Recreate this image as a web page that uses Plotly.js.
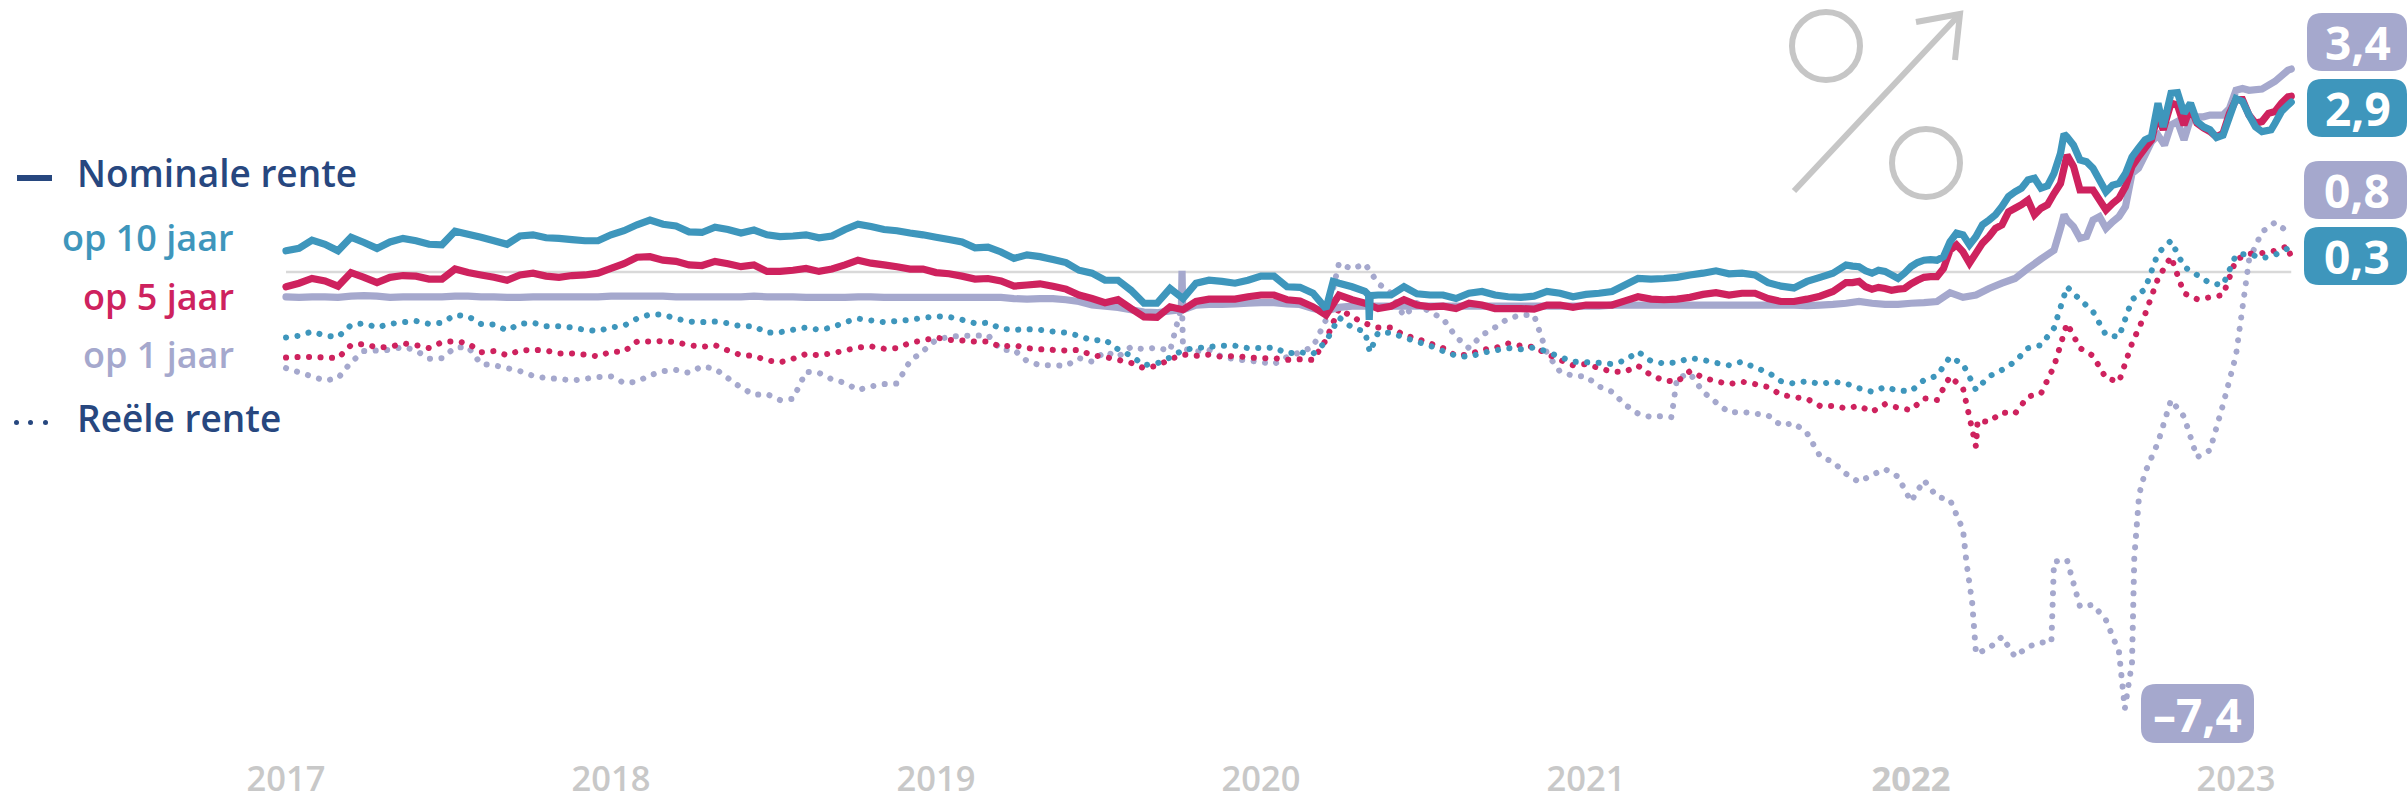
<!DOCTYPE html>
<html><head><meta charset="utf-8">
<script src="https://cdn.plot.ly/plotly-3.0.1.min.js"></script>
<style>html,body{margin:0;padding:0;background:#fff}#chart{width:2407px;height:803px}</style>
</head><body><div id="chart"></div>
<script>
// Half-monthly readings, starting at 2017.00, one value per 0.04 year (in %)
const startYear = 2017, stepYear = 0.04;
const yearTicks = [2017,2018,2019,2020,2021,2022,2023];
const yearLabels = ['2017','2018','2019','2020','2021','<b>2022</b>','2023'];

const nominal10 = [
.36,.40,.54,.47,.36,.59,.50,.40,.51,.57,
.53,.47,.46,.69,.64,.59,.53,.47,.61,.63,
.58,.57,.55,.53,.53,.63,.70,.80,.88,.81,
.78,.68,.67,.76,.72,.66,.71,.63,.60,.61,
.63,.58,.61,.72,.81,.77,.72,.70,.66,.63,
.59,.55,.51,.41,.42,.34,.23,.29,.26,.21,
.16,.03,-.02,-.14,-.14,-.31,-.53,-.53,-.28,-.45,
-.19,-.14,-.16,-.19,-.14,-.07,-.07,-.25,-.26,-.36,
-.62,-.19,-.25,-.33,-.39,-.39,-.25,-.37,-.39,-.39,
-.45,-.36,-.33,-.39,-.42,-.43,-.41,-.33,-.36,-.42,
-.38,-.36,-.33,-.22,-.11,-.12,-.11,-.09,-.05,-.02,
.02,-.03,-.02,-.05,-.18,-.24,-.27,-.16,-.09,-.02,
.12,.09,-.02,.01,-.11,.09,.20,.20,.51,.63,
.60,.88,1.11,1.36,1.56,1.42,1.67,2.29,1.90,1.76,
1.36,1.50,1.95,2.24,2.86,3.03,2.69,2.55,2.41,2.32,
2.94,2.66,2.38,2.52,2.83];
const nominal5 = [
-.25,-.19,-.11,-.15,-.24,-.01,-.09,-.18,-.09,-.06,
-.07,-.12,-.12,.05,-.01,-.05,-.09,-.14,-.05,-.02,
-.07,-.09,-.06,-.05,-.02,.06,.14,.25,.26,.20,
.18,.12,.11,.18,.14,.09,.12,.01,.01,.03,
.06,.01,.05,.12,.20,.15,.12,.09,.05,.05,
-.01,-.03,-.07,-.12,-.11,-.15,-.24,-.22,-.20,-.24,
-.29,-.39,-.45,-.52,-.47,-.62,-.76,-.77,-.59,-.64,
-.50,-.46,-.46,-.46,-.42,-.39,-.39,-.47,-.49,-.59,
-.73,-.39,-.47,-.53,-.62,-.58,-.47,-.56,-.59,-.58,
-.62,-.53,-.56,-.62,-.62,-.62,-.63,-.56,-.56,-.60,
-.56,-.56,-.56,-.49,-.42,-.46,-.47,-.46,-.43,-.38,
-.35,-.39,-.36,-.36,-.45,-.50,-.50,-.46,-.41,-.33,
-.18,-.16,-.29,-.28,-.29,-.20,-.09,-.08,.37,.34,
.32,.60,.80,1.08,1.22,1.08,1.33,1.98,1.39,1.39,
1.05,1.25,1.79,2.10,2.69,2.86,2.49,2.52,2.38,2.35,
2.92,2.66,2.55,2.72,2.97];
const nominal1 = [
-.42,-.43,-.42,-.42,-.43,-.41,-.40,-.41,-.43,-.42,
-.42,-.42,-.42,-.41,-.41,-.42,-.42,-.43,-.43,-.42,
-.42,-.42,-.42,-.42,-.42,-.41,-.41,-.41,-.41,-.41,
-.42,-.42,-.42,-.42,-.42,-.42,-.41,-.42,-.42,-.42,
-.43,-.43,-.43,-.43,-.42,-.42,-.43,-.43,-.43,-.43,
-.43,-.43,-.43,-.43,-.43,-.43,-.45,-.46,-.45,-.45,
-.47,-.50,-.56,-.58,-.60,-.64,-.68,-.69,-.66,-.64,
-.56,-.55,-.55,-.54,-.53,-.52,-.52,-.54,-.55,-.62,
-.66,-.60,-.58,-.58,-.58,-.58,-.58,-.58,-.58,-.58,
-.58,-.58,-.58,-.58,-.58,-.58,-.58,-.58,-.58,-.58,
-.58,-.58,-.56,-.56,-.56,-.56,-.56,-.56,-.56,-.56,
-.56,-.56,-.56,-.56,-.56,-.56,-.56,-.57,-.56,-.55,
-.53,-.50,-.53,-.55,-.55,-.53,-.52,-.50,-.35,-.43,
-.39,-.28,-.19,-.11,.06,.22,.37,.88,.57,.88,
.74,.94,1.67,1.98,2.32,2.49,2.24,2.63,2.66,2.66,
3.08,3.08,3.10,3.23,3.42];
const real10 = [
-1.11,-1.08,-1.01,-1.08,-1.10,-.90,-.87,-.94,-.88,-.85,
-.83,-.88,-.86,-.73,-.75,-.88,-.89,-.99,-.88,-.86,
-.92,-.92,-.94,-.98,-1.00,-.94,-.91,-.79,-.72,-.72,
-.79,-.84,-.85,-.84,-.87,-.92,-.92,-1.03,-1.02,-.98,
-.94,-.98,-.94,-.85,-.79,-.82,-.85,-.83,-.81,-.78,
-.75,-.76,-.81,-.87,-.86,-.96,-.98,-.97,-.98,-1.01,
-1.03,-1.08,-1.16,-1.15,-1.31,-1.42,-1.58,-1.55,-1.45,-1.32,
-1.29,-1.27,-1.25,-1.25,-1.29,-1.29,-1.28,-1.38,-1.36,-1.39,
-1.18,-.77,-.94,-1.01,-1.03,-1.03,-1.11,-1.18,-1.25,-1.34,
-1.42,-1.44,-1.37,-1.33,-1.29,-1.31,-1.28,-1.35,-1.44,-1.52,
-1.53,-1.54,-1.56,-1.50,-1.35,-1.51,-1.55,-1.53,-1.46,-1.49,
-1.54,-1.58,-1.52,-1.62,-1.70,-1.85,-1.89,-1.85,-1.90,-1.86,
-1.89,-1.97,-2.03,-1.95,-2.01,-2.02,-1.83,-1.76,-1.44,-1.56,
-2.00,-1.77,-1.66,-1.52,-1.29,-1.24,-.95,-.25,-.47,-.67,
-1.07,-1.10,-.47,-.29,.32,.53,.09,-.05,-.19,-.22,
.29,.31,.23,.29,.40];
const real5 = [
-1.45,-1.44,-1.44,-1.45,-1.46,-1.24,-1.22,-1.28,-1.27,-1.21,
-1.24,-1.29,-1.19,-1.17,-1.21,-1.36,-1.34,-1.41,-1.33,-1.32,
-1.33,-1.38,-1.38,-1.40,-1.43,-1.35,-1.35,-1.18,-1.18,-1.17,
-1.19,-1.24,-1.27,-1.24,-1.33,-1.41,-1.42,-1.50,-1.53,-1.47,
-1.39,-1.41,-1.38,-1.33,-1.28,-1.26,-1.30,-1.29,-1.20,-1.16,
-1.11,-1.15,-1.16,-1.18,-1.18,-1.27,-1.24,-1.29,-1.31,-1.32,
-1.33,-1.32,-1.41,-1.44,-1.49,-1.54,-1.63,-1.59,-1.48,-1.40,
-1.42,-1.40,-1.44,-1.42,-1.45,-1.46,-1.46,-1.49,-1.48,-1.49,
-1.15,-.62,-.76,-.87,-.94,-.94,-1.07,-1.13,-1.21,-1.29,
-1.42,-1.40,-1.32,-1.29,-1.21,-1.25,-1.27,-1.39,-1.49,-1.58,
-1.56,-1.63,-1.69,-1.69,-1.59,-1.75,-1.84,-1.86,-1.68,-1.79,
-1.85,-1.90,-1.86,-1.90,-1.95,-2.08,-2.12,-2.15,-2.27,-2.27,
-2.31,-2.27,-2.37,-2.24,-2.30,-2.34,-2.14,-2.17,-1.77,-1.97,
-2.96,-2.54,-2.38,-2.40,-2.11,-2.06,-1.60,-.87,-1.29,-1.42,
-1.80,-1.86,-1.21,-.72,-.11,.26,-.36,-.46,-.43,-.39,
.21,.31,.32,.36,.44];
const real1 = [
-1.63,-1.70,-1.77,-1.84,-1.80,-1.53,-1.34,-1.33,-1.32,-1.27,
-1.33,-1.47,-1.46,-1.28,-1.27,-1.56,-1.58,-1.63,-1.68,-1.76,
-1.80,-1.81,-1.84,-1.81,-1.78,-1.77,-1.88,-1.86,-1.75,-1.68,
-1.66,-1.71,-1.60,-1.64,-1.80,-1.96,-2.08,-2.07,-2.17,-2.15,
-1.69,-1.71,-1.82,-1.88,-2.00,-1.94,-1.90,-1.89,-1.51,-1.34,
-1.15,-1.10,-1.08,-1.08,-1.07,-1.32,-1.32,-1.51,-1.58,-1.58,
-1.59,-1.46,-1.52,-1.35,-1.44,-1.27,-1.31,-1.28,-1.34,-1.30,
-1.35,-1.32,-1.44,-1.48,-1.50,-1.53,-1.56,-1.44,-1.36,-1.27,
-.81,.15,.05,.14,-.19,-.36,-.75,-.53,-.68,-.79,
-1.10,-1.29,-1.07,-.94,-.79,-.73,-.73,-1.38,-1.69,-1.76,
-1.77,-1.94,-2.03,-2.25,-2.40,-2.46,-2.44,-1.80,-1.72,-2.03,
-2.21,-2.38,-2.37,-2.40,-2.43,-2.60,-2.56,-2.73,-3.12,-3.22,
-3.42,-3.56,-3.44,-3.34,-3.47,-3.89,-3.53,-3.81,-3.86,-4.37,
-6.47,-6.38,-6.18,-6.52,-6.35,-6.28,-4.91,-4.88,-5.67,-5.64,
-5.90,-6.44,-6.62,-3.40,-2.89,-2.17,-2.45,-3.14,-3.02,-2.25,
-1.41,.20,.68,.84,.68];

// Extra readings between the half-monthly ones, where the lines move sharply: [year, %]
const nominal10Extra = [[2020.222,-.16],[2020.331,-.39],[2020.333,-.81],[2020.336,-.40],[2022.776,2.46],[2023.108,2.41],[2023.17,2.88],
[2021.82,.10],[2021.86,.02],[2021.90,.03],[2021.94,-.05],[2021.98,-.02],[2022.02,.16],[2022.06,.21],[2022.10,.26],[2022.14,.66],[2022.18,.46],
[2022.22,.80],[2022.26,.97],[2022.30,1.28],[2022.34,1.42],[2022.38,1.59],[2022.42,1.46],[2022.46,2.01],[2022.471,2.34],[2022.50,2.15],[2022.54,1.87],
[2022.58,1.56],[2022.62,1.47],[2022.66,1.67],[2022.70,2.10],[2022.74,2.29],[2022.82,3.04],[2022.86,2.86],[2022.90,2.46],[2022.94,2.28],[2022.98,2.63],
[2023.02,2.89],[2023.06,2.46],[2023.14,2.72]];
const nominal5Extra = [[2022.776,2.41],[2023.17,2.98],
[2021.82,-.18],[2021.86,-.25],[2021.90,-.26],[2021.94,-.31],[2021.98,-.28],[2022.02,-.14],[2022.06,-.08],[2022.10,.06],[2022.14,.46],[2022.18,.15],
[2022.22,.49],[2022.26,.74],[2022.30,1.02],[2022.34,1.14],[2022.38,.97],[2022.42,1.14],[2022.46,1.50],[2022.50,1.79],[2022.54,1.39],[2022.58,1.22],
[2022.62,1.16],[2022.66,1.45],[2022.70,1.95],[2022.74,2.24],[2022.82,2.83],[2022.86,2.80],[2022.90,2.44],[2022.94,2.29],[2022.98,2.69],
[2023.02,2.92],[2023.06,2.52],[2023.10,2.69],[2023.14,2.86]];
const nominal1Extra = [[2019.755,-.64],[2019.757,.02],[2019.759,-.62],[2023.17,3.44],
[2022.46,.74],[2022.471,.97],[2022.50,.77],[2022.54,.60],[2022.58,.94],[2022.62,.85],[2022.66,1.11],[2022.70,1.76],[2022.74,2.21],[2022.78,2.15],
[2022.82,2.55],[2022.86,2.60],[2022.90,2.63],[2022.94,2.66],[2022.98,2.77],[2023.02,3.11]];
const real10Extra = [[2020.335,-1.36],[2023.17,.29]];
const real5Extra = [[2022.205,-2.52],[2023.166,.31]];
const real1Extra = [[2019.757,-.55],[2021.263,-2.46],[2022.171,-4.94],[2022.188,-5.59],[2022.432,-6.27],[2022.658,-7.4],[2022.687,-4.85],[2022.702,-3.77],[2023.17,.66]];

const colTeal='#3E96BC', colRed='#CE225E', colLav='#A5A8CD', colNavy='#27477F', colGrey='#C8C8C8';

function merged(vals, extra){
  const pts = vals.map((v,i)=>[startYear+stepYear*i, v]).concat(extra);
  pts.sort((a,b)=>a[0]-b[0]);
  return {x:pts.map(p=>p[0]), y:pts.map(p=>p[1])};
}
function solid(vals,extra,color,name){
  return Object.assign(merged(vals,extra),{type:'scatter',mode:'lines',name,line:{color,width:7.2,shape:'linear',simplify:false},hoverinfo:'skip'});
}
function dotted(vals,extra,color,name){
  return Object.assign(merged(vals,extra),{type:'scatter',mode:'lines',name,line:{color,width:6,dash:'0.1px,11.4px',simplify:false},hoverinfo:'skip'});
}
const traces=[
  dotted(real1,real1Extra,colLav,'Reële rente op 1 jaar'),
  dotted(real5,real5Extra,colRed,'Reële rente op 5 jaar'),
  dotted(real10,real10Extra,colTeal,'Reële rente op 10 jaar'),
  solid(nominal1,nominal1Extra,colLav,'Nominale rente op 1 jaar'),
  solid(nominal5,nominal5Extra,colRed,'Nominale rente op 5 jaar'),
  solid(nominal10,nominal10Extra,colTeal,'Nominale rente op 10 jaar')
];

const W=2407,H=803,plotH=755;
const px=x=>x/W, py=y=>1-y/plotH;
const badges=[
  {t:'3,4',x0:2307,y0:13,x1:2407,y1:71,c:colLav,cx:2358},
  {t:'2,9',x0:2307,y0:79,x1:2407,y1:137,c:colTeal,cx:2358},
  {t:'0,8',x0:2304,y0:161,x1:2407,y1:219,c:colLav,cx:2357},
  {t:'0,3',x0:2304,y0:227,x1:2407,y1:285,c:colTeal,cx:2357},
  {t:'\u20137,4',x0:2141,y0:684,x1:2254,y1:743,c:colLav,cx:2197}
];
function rr(b){
  const r=15, rx=r/W, ry=r/plotH, X0=px(b.x0),X1=px(b.x1),Y0=py(b.y0),Y1=py(b.y1);
  return `M${X0+rx},${Y0} L${X1-rx},${Y0} Q${X1},${Y0} ${X1},${Y0-ry} L${X1},${Y1+ry} Q${X1},${Y1} ${X1-rx},${Y1} L${X0+rx},${Y1} Q${X0},${Y1} ${X0},${Y1+ry} L${X0},${Y0-ry} Q${X0},${Y0} ${X0+rx},${Y0} Z`;
}
const iconLine={color:'#C6C6C6',width:6};
const shapes=[
 {type:'line',xref:'x',yref:'y',x0:2017,x1:2023.17,y0:0,y1:0,line:{color:'#D9D9D9',width:2.5},layer:'below'},
 {type:'circle',xref:'paper',yref:'paper',x0:px(1792),x1:px(1860),y0:py(12),y1:py(80),line:iconLine},
 {type:'circle',xref:'paper',yref:'paper',x0:px(1892),x1:px(1960),y0:py(129),y1:py(197),line:iconLine},
 {type:'path',xref:'paper',yref:'paper',path:`M${px(1794)},${py(191)} L${px(1960)},${py(14)}`,line:iconLine},
 {type:'path',xref:'paper',yref:'paper',path:`M${px(1916)},${py(22)} L${px(1960)},${py(14)} L${px(1955)},${py(60)}`,line:iconLine},
 {type:'line',xref:'paper',yref:'paper',x0:px(17),x1:px(52),y0:py(178),y1:py(178),line:{color:colNavy,width:6}},
 {type:'circle',xref:'paper',yref:'paper',x0:px(14),x1:px(19),y0:py(420),y1:py(425),fillcolor:colNavy,line:{width:0}},
 {type:'circle',xref:'paper',yref:'paper',x0:px(28),x1:px(33),y0:py(420),y1:py(425),fillcolor:colNavy,line:{width:0}},
 {type:'circle',xref:'paper',yref:'paper',x0:px(43),x1:px(48),y0:py(420),y1:py(425),fillcolor:colNavy,line:{width:0}}
].concat(badges.map(b=>({type:'path',xref:'paper',yref:'paper',path:rr(b),fillcolor:b.c,line:{width:0},layer:'above'})));

const FONT='"Open Sans", sans-serif';
function label(text,x,y,color,anchor,size,weight){
  return {text,xref:'paper',yref:'paper',x:px(x),y:py(y),xanchor:anchor,yanchor:'middle',showarrow:false,
    font:{family:FONT,size:size||37,color,weight:weight||600},borderpad:0};
}
const annotations=[
 label('Nominale rente',76,173,colNavy,'left',37,600),
 label('op 10 jaar',235,238,colTeal,'right',36,600),
 label('op 5 jaar',235,296,colRed,'right',36,600),
 label('op 1 jaar',235,354,colLav,'right',36,600),
 label('Reële rente',76,417,colNavy,'left',37,600)
].concat(badges.map(b=>label('<b>'+b.t+'</b>',b.cx,(b.y0+b.y1)/2,'#FFFFFF','center',46,700)));

const layout={
 width:W,height:H,margin:{l:0,r:0,t:0,b:H-plotH,pad:0},
 paper_bgcolor:'#fff',plot_bgcolor:'#fff',showlegend:false,hovermode:false,
 xaxis:{type:'linear',range:[2017-286/325,2017+2121/325],tickmode:'array',tickvals:yearTicks,ticktext:yearLabels,
   showgrid:false,zeroline:false,showline:false,ticks:'',tickfont:{family:FONT,size:34.5,color:colGrey,weight:600},tickangle:0},
 yaxis:{type:'linear',range:[(272-plotH)/59,272/59],showgrid:false,zeroline:false,showline:false,ticks:'',showticklabels:false},
 shapes,annotations
};
Plotly.newPlot('chart',traces,layout,{staticPlot:true,displayModeBar:false}).then(()=>{
  document.querySelectorAll('.scatterlayer path.js-line').forEach(p=>{p.style.strokeLinecap='round';});
});
</script></body></html>
